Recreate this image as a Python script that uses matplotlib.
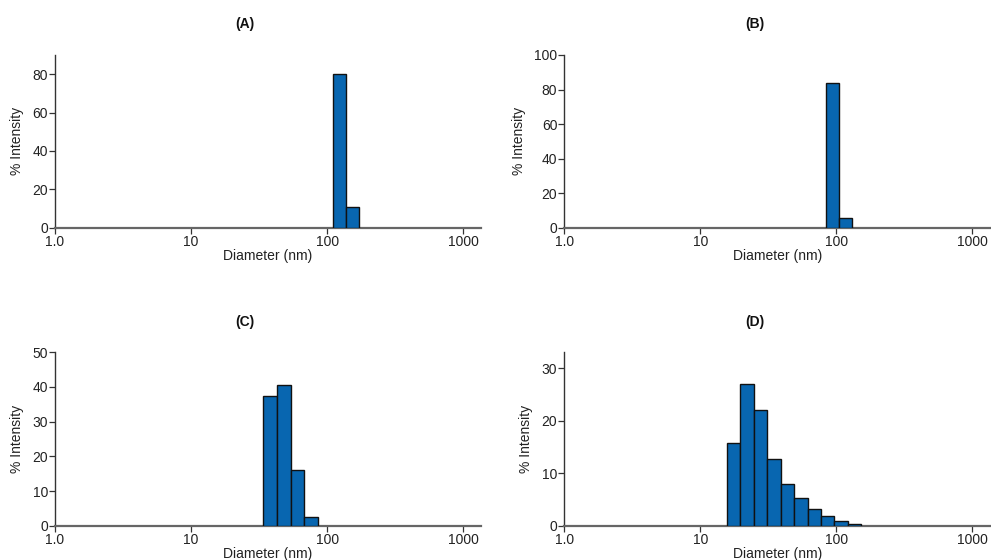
import matplotlib
matplotlib.use("Agg")
import matplotlib.pyplot as plt
from matplotlib.ticker import FixedLocator, FixedFormatter, NullLocator

plt.rcParams['font.family'] = ['Liberation Sans', 'DejaVu Sans']

# ---- data: bin edges (nm) and % intensity ----
a_edges = [110, 138, 172]
a_vals = [80, 10.7]

b_edges = [84, 105, 130]
b_vals = [84, 5.5]

c_edges = [34, 42.7, 54, 67.8, 85]
c_vals = [37.5, 40.5, 16, 2.5]

d_edges = [15.7, 19.7, 24.7, 31.0, 39.0, 49.0, 61.5, 77.3, 97.0, 122, 153]
d_vals = [15.8, 27.0, 22.0, 12.7, 7.9, 5.2, 3.1, 1.8, 0.8, 0.35]

titles = ["(A)", "(B)", "(C)", "(D)"]
x_ticks = [1, 10, 100, 1000]
x_ticklabels = ["1.0", "10", "100", "1000"]
y_ticks = [[0, 20, 40, 60, 80], [0, 20, 40, 60, 80, 100],
           [0, 10, 20, 30, 40, 50], [0, 10, 20, 30]]
y_lims = [90, 100, 50, 33]

W, H = 991, 560
fig = plt.figure(figsize=(W / 100, H / 100), dpi=100)

def frac_rect(x0, x1, ytop, ybot):
    return [x0 / W, 1 - ybot / H, (x1 - x0) / W, (ybot - ytop) / H]

rects = [frac_rect(55, 481, 55, 227.7),
         frac_rect(564.3, 990, 55, 227.7),
         frac_rect(55, 481, 352.3, 525.7),
         frac_rect(564.3, 990, 352.3, 525.7)]
title_pos = [(245, 24), (754.5, 24), (245, 322), (754.5, 322)]

series = [(a_edges, a_vals), (b_edges, b_vals), (c_edges, c_vals), (d_edges, d_vals)]
bar_color = "#0866b0"

for i, (edges, vals) in enumerate(series):
    ax = fig.add_axes(rects[i])
    ax.set_xscale("log")
    lefts = edges[:-1]
    widths = [edges[j + 1] - edges[j] for j in range(len(vals))]
    ax.bar(lefts, vals, width=widths, align="edge", color=bar_color,
           edgecolor="#111111", linewidth=1.0, zorder=3)
    ax.set_xlim(1.0, 1350)
    ax.set_ylim(0, y_lims[i])
    ax.xaxis.set_major_locator(FixedLocator(x_ticks))
    ax.xaxis.set_major_formatter(FixedFormatter(x_ticklabels))
    ax.xaxis.set_minor_locator(NullLocator())
    ax.set_yticks(y_ticks[i])
    for s in ["top", "right"]:
        ax.spines[s].set_visible(False)
    ax.spines["left"].set_color("#333333")
    ax.spines["left"].set_linewidth(1.0)
    ax.spines["bottom"].set_color("#666666")
    ax.spines["bottom"].set_linewidth(1.6)
    ax.tick_params(axis="y", direction="out", length=4.5, width=0.9,
                   color="#333333", labelsize=10, labelcolor="#222222", pad=0.5)
    ax.tick_params(axis="x", direction="out", length=4.5, width=0.9,
                   color="#333333", labelsize=10, labelcolor="#222222", pad=1.0)
    ax.set_xlabel("Diameter (nm)", fontsize=10, color="#222222", labelpad=0)
    ax.set_ylabel("% Intensity", fontsize=10, color="#222222", labelpad=6)
    tx, ty = title_pos[i]
    fig.text(tx / W, 1 - ty / H, titles[i], ha="center", va="center",
             fontsize=10, fontweight="bold", color="#111111")

fig.savefig("out.png", dpi=100)
